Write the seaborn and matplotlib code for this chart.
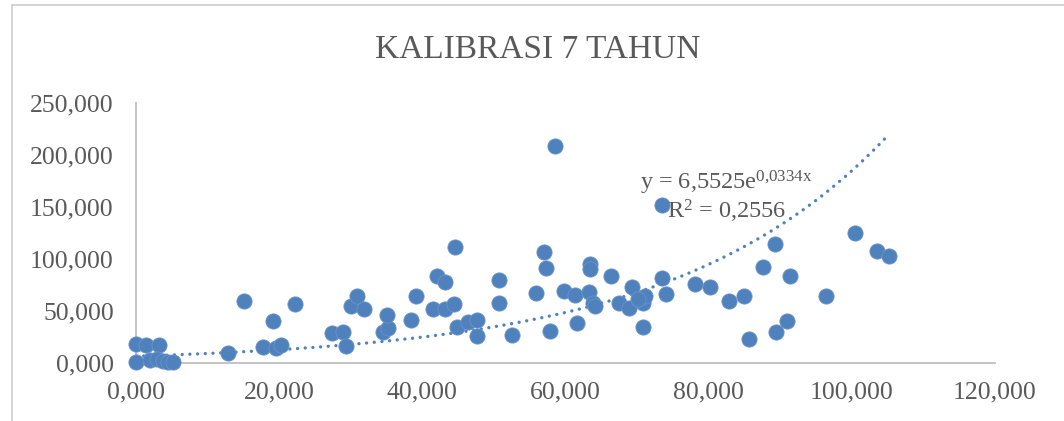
import numpy as np
import matplotlib
matplotlib.use("Agg")
import matplotlib.pyplot as plt
import seaborn as sns
from matplotlib.lines import Line2D

# Data (x in thousands, y in thousands)
umur = [0.0, 0.0, 1.4, 3.2, 2.0, 2.9, 3.8, 4.5, 5.2, 12.8,
        15.1, 17.8, 19.1, 19.5, 20.3, 22.2, 27.4, 28.9, 29.3, 30.1,
        30.9, 31.8, 34.5, 35.2, 35.0, 38.4, 39.1, 41.5, 42.0, 43.2,
        43.2, 44.4, 44.6, 44.9, 46.4, 47.6, 47.7, 50.7, 50.7, 52.5,
        55.9, 57.0, 57.3, 57.9, 58.5, 59.8, 61.3, 61.6, 63.4, 63.4,
        63.3, 63.8, 64.1, 66.3, 67.5, 68.9, 69.3, 70.8, 70.8, 71.1,
        70.1, 73.5, 73.5, 74.0, 78.1, 80.2, 82.8, 84.9, 85.6, 87.6,
        89.2, 89.4, 90.9, 91.3, 96.4, 100.4, 103.5, 105.2]
nilai = [0.5, 18, 17, 17, 3, 4, 1.5, 0.5, 0.5, 9.6,
         60, 15, 40, 14, 17, 57, 29, 30, 16, 55,
         64, 52, 30, 34, 46, 41, 64, 52, 84, 78,
         52, 57, 112, 35, 39, 41, 26, 80, 58, 27,
         67, 107, 91, 31, 209, 69, 65, 38, 95, 90,
         68, 58, 55, 84, 58, 53, 73, 35, 58, 64,
         62, 152, 82, 66, 76, 73, 60, 64, 23, 92,
         114, 30, 40, 84, 64, 125, 108, 103]

# exponential trendline constants (from the chart label)
koef_a = 6.5525
koef_b = 0.0334
x_ticks = [0, 20, 40, 60, 80, 100, 120]
y_ticks = [0, 50, 100, 150, 200, 250]

sns.set_style("white")
plt.rcParams['font.family'] = ['Liberation Serif', 'DejaVu Serif']
plt.rcParams['mathtext.fontset'] = 'custom'
plt.rcParams['mathtext.rm'] = 'Liberation Serif'
plt.rcParams['mathtext.it'] = 'Liberation Serif:italic'

biru = "#4F81BD"
abu = "#595959"
garis = "#D0D0D0"

fig = plt.figure(figsize=(10.64, 4.21), dpi=100)
ax = fig.add_axes([136 / 1064, 1 - 363 / 421, (995 - 136) / 1064, 260 / 421])

sns.scatterplot(x=umur, y=nilai, ax=ax, color=biru, s=120,
                edgecolor="#6A94C8", linewidth=0.6, zorder=3, clip_on=False)

# garis trend eksponensial
xt = np.linspace(min(umur), max(umur), 200)
yt = koef_a * np.exp(koef_b * xt)
ax.plot(xt, yt, color=biru, lw=2.4, linestyle=(0, (0.01, 2.3)),
        dash_capstyle="round", zorder=2)

ax.set_xlim(0, 120)
ax.set_ylim(0, 250)
ax.set_xticks(x_ticks)
ax.set_yticks(y_ticks)
ax.set_xticklabels([f"{v:.3f}".replace(".", ",") for v in x_ticks])
ax.set_yticklabels([f"{v:.3f}".replace(".", ",") for v in y_ticks])
ax.tick_params(axis="both", length=0, labelsize=18.5, colors=abu)
ax.tick_params(axis="x", pad=13)
ax.tick_params(axis="y", pad=16)

for s in ["top", "right"]:
    ax.spines[s].set_visible(False)
for s in ["left", "bottom"]:
    ax.spines[s].set_color("#BFBFBF")
    ax.spines[s].set_linewidth(1.3)

ax.text(82.5, 133, "y = 6,5525e$^{\\mathregular{0{,}0334x}}$\nR$^{\\mathregular{2}}$ = 0,2556",
        ha="center", va="bottom", fontsize=17.5, color=abu, linespacing=1.0)

fig.text(538 / 1064, 1 - 50 / 421, "KALIBRASI 7 TAHUN", ha="center",
         va="center", fontsize=24, color=abu)

# bingkai chart
fig.add_artist(Line2D([12 / 1064, 12 / 1064], [0, 1 - 5 / 421],
                      transform=fig.transFigure, color=garis, lw=1.3))
fig.add_artist(Line2D([12 / 1064, 1], [1 - 5 / 421, 1 - 5 / 421],
                      transform=fig.transFigure, color=garis, lw=1.3))

fig.savefig("out.png", dpi=100)
